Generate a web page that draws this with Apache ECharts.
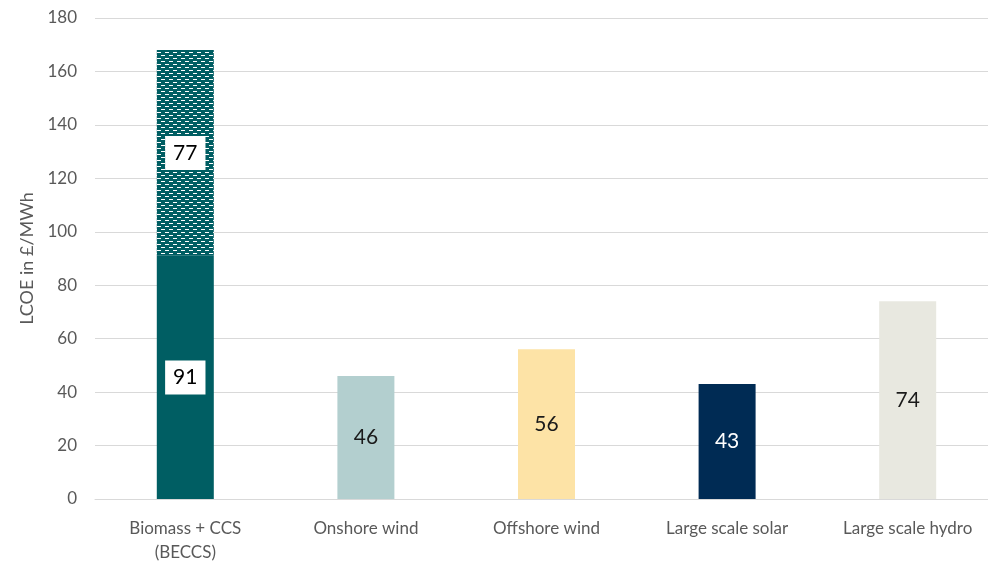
<!DOCTYPE html>
<html>
<head>
<meta charset="utf-8">
<script src="https://cdn.jsdelivr.net/npm/echarts@6/dist/echarts.min.js"></script>
<style>
  html, body { margin: 0; padding: 0; background: #fff; }
  #chart { width: 988px; height: 567px; }
</style>
</head>
<body>
<div id="chart"></div>
<script>
// Levelised cost of electricity by technology (£/MWh)
var categories = ['Biomass + CCS\n(BECCS)', 'Onshore wind', 'Offshore wind', 'Large scale solar', 'Large scale hydro'];
var baseCost = [91, 46, 56, 43, 74];
var ccsExtra = [77, null, null, null, null];
var barColors = ['#005E63', '#B3CFCF', '#FDE3A6', '#002B54', '#E8E8E0'];
var labelColors = ['#000', '#1a1a1a', '#1a1a1a', '#ffffff', '#1a1a1a'];
var yTicks = [0, 20, 40, 60, 80, 100, 120, 140, 160, 180];

var FONT = 'Lato, "Open Sans", sans-serif';

// Dashed fill for the additional BECCS component
function makePattern() {
  var c = document.createElement('canvas');
  c.width = 8; c.height = 6;
  var g = c.getContext('2d');
  g.fillStyle = '#005E63';
  g.fillRect(0, 0, 8, 6);
  g.fillStyle = '#ffffff';
  g.fillRect(1, 1, 4, 1);
  g.fillRect(5, 4, 3, 1);
  g.fillRect(0, 4, 1, 1);
  return c;
}

var boxedLabel = {
  show: true,
  position: 'inside',
  color: '#000',
  fontSize: 21,
  fontFamily: FONT,
  backgroundColor: '#ffffff',
  padding: [7, 8, 6, 8]
};

var chart = echarts.init(document.getElementById('chart'), null, { renderer: 'canvas' });
chart.setOption({
  animation: false,
  grid: { left: 95, right: -10, top: 18, bottom: 68, outerBoundsMode: 'none', containLabel: false },
  xAxis: {
    type: 'category',
    data: categories,
    axisLine: { lineStyle: { color: '#D9D9D9', width: 1 } },
    axisTick: { show: false },
    axisLabel: {
      color: '#595959',
      fontSize: 17,
      fontFamily: FONT,
      lineHeight: 24,
      margin: 18,
      interval: 0
    }
  },
  yAxis: {
    type: 'value',
    min: yTicks[0],
    max: yTicks[yTicks.length - 1],
    interval: 20,
    name: 'LCOE in £/MWh',
    nameLocation: 'middle',
    nameGap: 58,
    nameTextStyle: { color: '#595959', fontSize: 18, fontFamily: FONT },
    axisLine: { show: false },
    axisTick: { show: false },
    axisLabel: { color: '#595959', fontSize: 17, fontFamily: FONT, margin: 18 },
    splitLine: { lineStyle: { color: '#D9D9D9', width: 1 } }
  },
  series: [
    {
      type: 'bar',
      stack: 'cost',
      barWidth: 57,
      data: baseCost.map(function (v, i) {
        var item = { value: v, itemStyle: { color: barColors[i] } };
        if (i === 0) {
          item.label = boxedLabel;
        } else {
          item.label = {
            show: true, position: 'inside', color: labelColors[i], fontSize: 21, fontFamily: FONT
          };
        }
        return item;
      })
    },
    {
      type: 'bar',
      stack: 'cost',
      barWidth: 57,
      itemStyle: { color: { image: makePattern(), repeat: 'repeat' } },
      label: boxedLabel,
      data: ccsExtra.map(function (v) { return v === null ? '-' : v; })
    }
  ]
});
</script>
</body>
</html>
